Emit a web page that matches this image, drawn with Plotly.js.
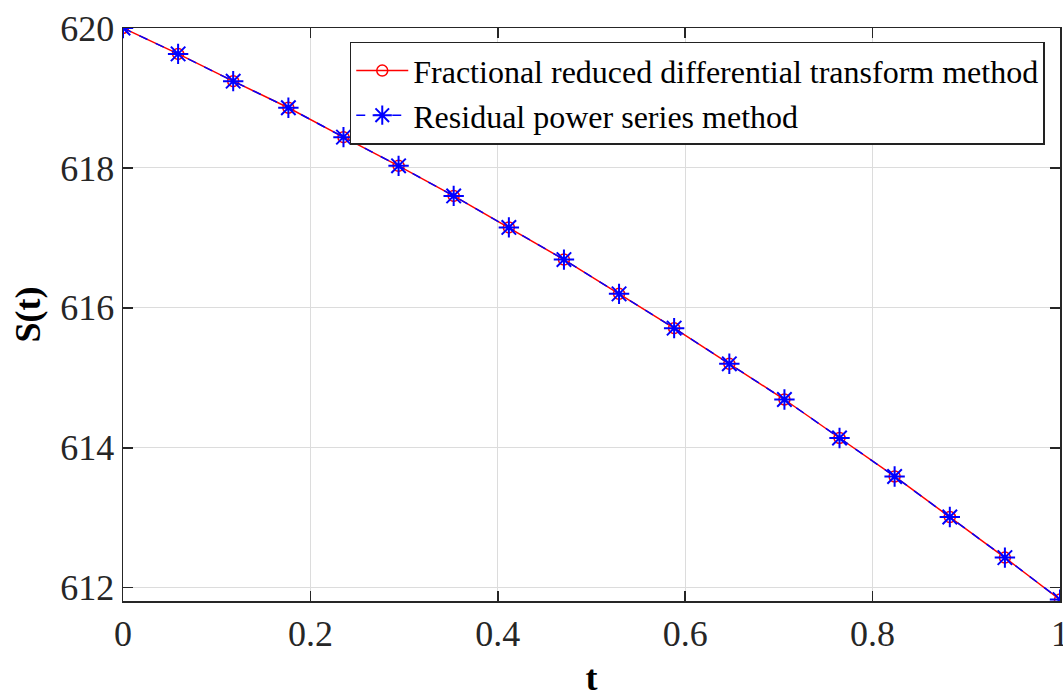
<!DOCTYPE html>
<html>
<head>
<meta charset="utf-8">
<script src="https://cdn.plot.ly/plotly-3.0.1.min.js"></script>
<style>html,body{margin:0;padding:0;background:#fff;}#chart{width:1063px;height:698px;}</style>
</head>
<body>
<div id="chart"></div>
<script>
const tValues = [0, 0.0588, 0.1176, 0.1765, 0.2353, 0.2941, 0.3529, 0.4118, 0.4706, 0.5294, 0.5882, 0.6471, 0.7059, 0.7647, 0.8235, 0.8824, 0.9412, 1];
const frdtm = [620.00, 619.63, 619.24, 618.86, 618.44, 618.03, 617.60, 617.15, 616.69, 616.20, 615.71, 615.20, 614.69, 614.14, 613.59, 613.01, 612.43, 611.83];
const rpsm  = [620.00, 619.63, 619.24, 618.86, 618.44, 618.03, 617.60, 617.15, 616.69, 616.20, 615.71, 615.20, 614.69, 614.14, 613.59, 613.01, 612.43, 611.83];
const seriesNames = ['Fractional reduced differential transform method', 'Residual power series method'];
const xTicks = [0, 0.2, 0.4, 0.6, 0.8, 1];
const xTickLabels = ['0', '0.2', '0.4', '0.6', '0.8', '1'];
const yTicks = [612, 614, 616, 618, 620];

const font = '"Liberation Serif", serif';
const traces = [
  {x: tValues, y: frdtm, name: seriesNames[0], mode: 'lines+markers', type: 'scatter',
   line: {color: '#ff0000', width: 1.5},
   marker: {symbol: 'circle-open', size: 11, color: '#ff0000', line: {width: 1.5}}},
  {x: tValues, y: rpsm, name: seriesNames[1], mode: 'lines+markers', type: 'scatter',
   line: {color: '#0000ff', width: 1.5, dash: 'dash'},
   marker: {symbol: 'asterisk-open', size: 17, color: '#0000ff', line: {width: 2, color: '#0000ff'}}}
];
const layout = {
  width: 1063, height: 698,
  margin: {l: 123, r: 3, t: 28, b: 97},
  paper_bgcolor: '#fff', plot_bgcolor: '#fff',
  font: {family: font, color: '#000'},
  showlegend: true,
  legend: {x: 0.242, y: 0.976, xanchor: 'left', yanchor: 'top',
    bordercolor: '#222', borderwidth: 1.5, bgcolor: '#fff',
    font: {family: font, size: 32, color: '#000'}, tracegroupgap: 0, itemwidth: 52},
  xaxis: {range: [0, 1], tickvals: xTicks, ticktext: xTickLabels, ticklabeloverflow: 'allow',
    showgrid: true, gridcolor: '#dcdcdc', gridwidth: 1,
    showline: true, linecolor: '#262626', linewidth: 1.5, mirror: 'ticks',
    ticks: 'inside', ticklen: 10, tickcolor: '#262626', tickwidth: 1.5,
    zeroline: false, tickfont: {family: font, size: 36, color: '#262626'},
    title: {text: '<b>t</b>', font: {family: font, size: 36, color: '#000'}, standoff: 16}},
  yaxis: {range: [611.81, 620], tickvals: yTicks, ticklabeloverflow: 'allow',
    showgrid: true, gridcolor: '#dcdcdc', gridwidth: 1,
    showline: true, linecolor: '#262626', linewidth: 1.5, mirror: 'ticks',
    ticks: 'inside', ticklen: 10, tickcolor: '#262626', tickwidth: 1.5,
    zeroline: false, tickfont: {family: font, size: 36, color: '#262626'},
    title: {text: '<b>S(t)</b>', font: {family: font, size: 36, color: '#000'}, standoff: 8}}
};
Plotly.newPlot('chart', traces, layout, {displayModeBar: false, staticPlot: true});
</script>
</body>
</html>
